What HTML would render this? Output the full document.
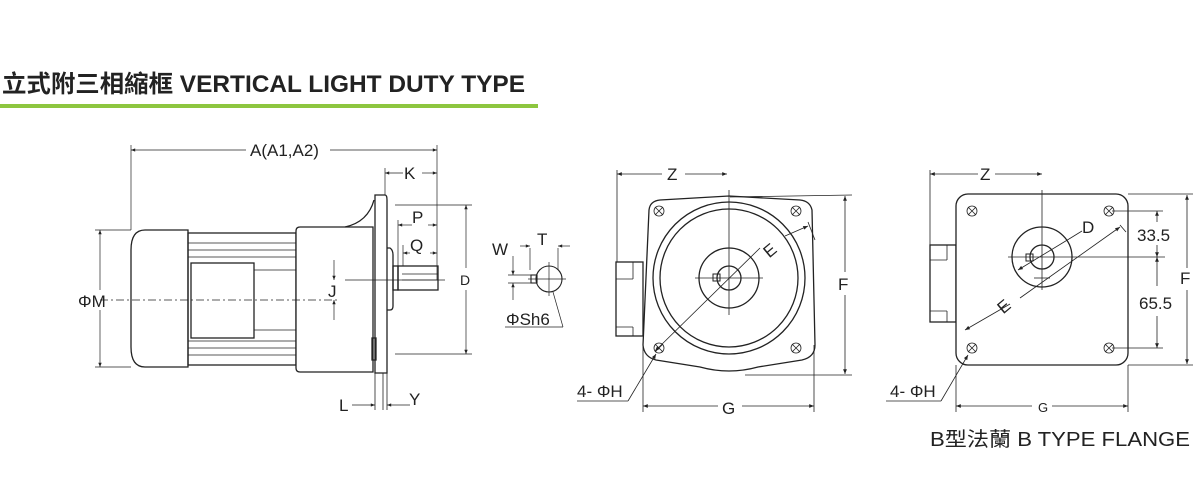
<!DOCTYPE html>
<html><head><meta charset="utf-8"><style>
html,body{margin:0;padding:0;background:#fff;width:1200px;height:500px;overflow:hidden}
svg{display:block}
text{font-family:"Liberation Sans","Noto Sans CJK TC",sans-serif;fill:#222}
</style></head><body>
<svg width="1200" height="500" viewBox="0 0 1200 500" xmlns="http://www.w3.org/2000/svg">
<defs>
<marker id="a" viewBox="0 0 10 10" refX="10" refY="5" markerWidth="8" markerHeight="6" orient="auto-start-reverse"><path d="M0,1 L10,5 L0,9 z" fill="#222"/></marker>
</defs>
<text x="2" y="92" font-size="24" font-weight="bold" textLength="523" lengthAdjust="spacingAndGlyphs">立式附三相縮框 VERTICAL LIGHT DUTY TYPE</text>
<rect x="0" y="104" width="538" height="4" fill="#8dc63f"/>

<g stroke="#222" fill="none" stroke-width="1.3">
<path d="M188,230 L145,230 Q131,230 131,250 L131,347 Q131,367 145,367 L188,367 Z" fill="#fff"/>
<rect x="188" y="233" width="108" height="132"/>
<g stroke-width="0.8">
<line x1="188" y1="243" x2="296" y2="243"/><line x1="188" y1="250" x2="296" y2="250"/><line x1="188" y1="257" x2="296" y2="257"/>
<line x1="188" y1="341" x2="296" y2="341"/><line x1="188" y1="348" x2="296" y2="348"/><line x1="188" y1="355" x2="296" y2="355"/>
<line x1="254" y1="270" x2="296" y2="270"/><line x1="254" y1="330" x2="296" y2="330"/>
</g>
<rect x="191" y="263" width="63" height="75" fill="#fff"/>
<path d="M300,227 L373,227 L373,372 L300,372 Q296,372 296,368 L296,231 Q296,227 300,227" fill="#fff"/>
<path d="M345,227 Q368,222 374,200"/>
<path d="M375,195 L385,195 Q387,195 387,200 L387,373 L375,373 Z" fill="#fff"/>
<line x1="375" y1="373" x2="375" y2="410" stroke-width="0.8"/><line x1="383" y1="373" x2="383" y2="410" stroke-width="0.8"/><line x1="387" y1="373" x2="387" y2="410" stroke-width="0.8"/>
<rect x="372" y="338" width="4" height="22"/>
<path d="M387,248 L390,248 Q393,250 393,255 L393,306 Q393,310 390,310 L387,310"/>
<rect x="393" y="266" width="5" height="24"/>
<rect x="398" y="266" width="40" height="24"/>
<line x1="402" y1="274" x2="438" y2="274" stroke-width="0.8"/><line x1="402" y1="280" x2="438" y2="280" stroke-width="0.8"/>
</g>
<g stroke="#222" stroke-width="0.7" fill="none">
<line x1="100" y1="300" x2="340" y2="300" stroke-dasharray="8,3,2,3"/>
<line x1="131" y1="145" x2="131" y2="230"/><line x1="437" y1="145" x2="437" y2="280"/>
<line x1="131" y1="150" x2="246" y2="150" marker-start="url(#a)"/><line x1="330" y1="150" x2="437" y2="150" marker-end="url(#a)"/>
<line x1="385" y1="168" x2="385" y2="195"/>
<line x1="385" y1="173" x2="403" y2="173" marker-start="url(#a)"/><line x1="422" y1="173" x2="437" y2="173" marker-end="url(#a)"/>
<line x1="398" y1="220" x2="398" y2="266"/><line x1="403" y1="245" x2="403" y2="266"/>
<line x1="398" y1="225" x2="412" y2="225" marker-start="url(#a)"/><line x1="428" y1="225" x2="437" y2="225" marker-end="url(#a)"/>
<line x1="403" y1="253" x2="410" y2="253" marker-start="url(#a)"/><line x1="430" y1="253" x2="437" y2="253" marker-end="url(#a)"/>
<line x1="395" y1="205" x2="472" y2="205"/><line x1="395" y1="354" x2="472" y2="354"/>
<line x1="466" y1="205" x2="466" y2="268" marker-start="url(#a)"/><line x1="466" y1="290" x2="466" y2="354" marker-end="url(#a)"/>
<line x1="345" y1="280" x2="445" y2="280"/>
<line x1="334" y1="260" x2="334" y2="280" marker-end="url(#a)"/><line x1="334" y1="320" x2="334" y2="300" marker-end="url(#a)"/>
<line x1="95" y1="230" x2="131" y2="230"/><line x1="95" y1="367" x2="131" y2="367"/>
<line x1="100" y1="230" x2="100" y2="290" marker-start="url(#a)"/><line x1="100" y1="310" x2="100" y2="367" marker-end="url(#a)"/>
<line x1="352" y1="405" x2="375" y2="405" marker-end="url(#a)"/>
<line x1="410" y1="405" x2="387" y2="405" marker-end="url(#a)"/>
</g>
<g font-size="17">
<text x="250" y="156">A(A1,A2)</text>
<text x="404" y="179">K</text><text x="412" y="223">P</text><text x="410" y="251">Q</text>
<text x="460" y="285" font-size="14">D</text><text x="328" y="297">J</text>
<text x="78" y="307">ΦM</text><text x="339" y="411">L</text><text x="409" y="405">Y</text>
</g>
<g stroke="#222" fill="none" stroke-width="1.1">
<circle cx="549" cy="279" r="13"/><rect x="531" y="275" width="6" height="8"/>
</g>
<g stroke="#222" stroke-width="0.7" fill="none">
<line x1="528" y1="279" x2="566" y2="279"/><line x1="549" y1="262" x2="549" y2="296"/>
<line x1="530" y1="248" x2="530" y2="270"/><line x1="558" y1="248" x2="558" y2="270"/>
<line x1="520" y1="246" x2="530" y2="246" marker-end="url(#a)"/><line x1="570" y1="246" x2="558" y2="246" marker-end="url(#a)"/>
<line x1="513" y1="256" x2="513" y2="275" marker-end="url(#a)"/><line x1="513" y1="300" x2="513" y2="283" marker-end="url(#a)"/>
<line x1="508" y1="275" x2="533" y2="275"/><line x1="508" y1="283" x2="533" y2="283"/>
<line x1="505" y1="327" x2="563" y2="327"/><line x1="563" y1="327" x2="553" y2="292"/>
</g>
<g font-size="17"><text x="492" y="255">W</text><text x="537" y="245">T</text><text x="506" y="325">ΦSh6</text></g>

<g stroke="#222" fill="none" stroke-width="1.3">
<rect x="616" y="262" width="27" height="74"/><line x1="616" y1="279" x2="633" y2="279" stroke-width="0.8"/><line x1="633" y1="262" x2="633" y2="279" stroke-width="0.8"/><line x1="616" y1="327" x2="633" y2="327" stroke-width="0.8"/><line x1="633" y1="327" x2="633" y2="336" stroke-width="0.8"/>
<path d="M660,200 Q650,201 649,210 L643,345 Q644,357 656,360 L700,367 Q729,375 758,367 L802,360 Q815,357 815,345 L812,210 Q810,201 800,200 L729,196 Z" fill="#fff"/>
<circle cx="729" cy="278" r="76"/><circle cx="729" cy="278" r="69"/>
<circle cx="729" cy="278" r="30"/><circle cx="729" cy="278" r="12"/>
<rect x="713" y="274" width="7" height="7" stroke-width="1"/>
</g>
<g stroke="#222" stroke-width="0.8" fill="none">
<circle cx="659" cy="211" r="5"/><circle cx="796" cy="211" r="5"/><circle cx="659" cy="348" r="5"/><circle cx="796" cy="348" r="5"/>
<path d="M655,207l8,8M663,207l-8,8M792,207l8,8M800,207l-8,8M655,344l8,8M663,344l-8,8M792,344l8,8M800,344l-8,8"/>
<line x1="729" y1="190" x2="729" y2="315"/><line x1="695" y1="278" x2="763" y2="278"/>
<line x1="617" y1="170" x2="617" y2="262"/>
<line x1="617" y1="174" x2="662" y2="174" marker-start="url(#a)"/><line x1="685" y1="174" x2="727" y2="174" marker-end="url(#a)"/>
<line x1="655" y1="351" x2="760" y2="248" marker-start="url(#a)"/><line x1="785" y1="236" x2="808" y2="226" marker-end="url(#a)"/>
<line x1="808" y1="222" x2="815" y2="240"/>
<line x1="643" y1="345" x2="643" y2="412"/><line x1="814" y1="345" x2="814" y2="412"/>
<line x1="643" y1="406" x2="718" y2="406" marker-start="url(#a)"/><line x1="742" y1="406" x2="814" y2="406" marker-end="url(#a)"/>
<line x1="730" y1="197" x2="852" y2="195"/><line x1="745" y1="375" x2="852" y2="375"/>
<line x1="845" y1="196" x2="845" y2="272" marker-start="url(#a)"/><line x1="845" y1="295" x2="845" y2="374" marker-end="url(#a)"/>
<line x1="577" y1="401" x2="628" y2="401"/><line x1="628" y1="401" x2="656" y2="354" marker-end="url(#a)"/>
</g>
<g font-size="17"><text x="667" y="180">Z</text><text x="838" y="290">F</text><text x="722" y="414">G</text><text x="577" y="397">4- ΦH</text>
<text x="764" y="256" transform="rotate(-40 770 250)">E</text></g>

<g stroke="#222" fill="none" stroke-width="1.3">
<rect x="930" y="245" width="26" height="77"/><line x1="930" y1="260" x2="947" y2="260" stroke-width="0.8"/><line x1="947" y1="245" x2="947" y2="260" stroke-width="0.8"/><line x1="930" y1="311" x2="947" y2="311" stroke-width="0.8"/><line x1="947" y1="311" x2="947" y2="322" stroke-width="0.8"/>
<rect x="956" y="194" width="172" height="171" rx="12" fill="#fff"/>
<circle cx="1042" cy="257" r="30"/><circle cx="1042" cy="257" r="12"/>
<rect x="1026" y="254" width="7" height="7" stroke-width="1"/>
</g>
<g stroke="#222" stroke-width="0.8" fill="none">
<circle cx="972" cy="211" r="5"/><circle cx="1109" cy="211" r="5"/><circle cx="972" cy="348" r="5"/><circle cx="1109" cy="348" r="5"/>
<path d="M968,207l8,8M976,207l-8,8M1105,207l8,8M1113,207l-8,8M968,344l8,8M976,344l-8,8M1105,344l8,8M1113,344l-8,8"/>
<line x1="1042" y1="190" x2="1042" y2="290"/><line x1="1008" y1="257" x2="1165" y2="257"/><line x1="1034" y1="278" x2="1050" y2="278"/>
<line x1="930" y1="170" x2="930" y2="245"/>
<line x1="930" y1="174" x2="978" y2="174" marker-start="url(#a)"/><line x1="995" y1="174" x2="1042" y2="174" marker-end="url(#a)"/>
<line x1="1018" y1="270" x2="1069" y2="239" marker-start="url(#a)"/><line x1="1069" y1="239" x2="1082" y2="231"/>
<line x1="965" y1="330" x2="1010" y2="304" marker-start="url(#a)"/><line x1="1020" y1="298" x2="1120" y2="227" marker-end="url(#a)"/>
<line x1="1120" y1="225" x2="1126" y2="232"/>
<line x1="1112" y1="211" x2="1163" y2="211"/><line x1="1112" y1="348" x2="1163" y2="348"/>
<line x1="1157" y1="211" x2="1157" y2="222" marker-start="url(#a)"/><line x1="1157" y1="245" x2="1157" y2="257" marker-end="url(#a)"/>
<line x1="1157" y1="257" x2="1157" y2="286" marker-start="url(#a)"/><line x1="1157" y1="316" x2="1157" y2="348" marker-end="url(#a)"/>
<line x1="1128" y1="194" x2="1193" y2="194"/><line x1="1128" y1="365" x2="1193" y2="365"/>
<line x1="1187" y1="195" x2="1187" y2="268" marker-start="url(#a)"/><line x1="1187" y1="290" x2="1187" y2="364" marker-end="url(#a)"/>
<line x1="956" y1="365" x2="956" y2="412"/><line x1="1128" y1="365" x2="1128" y2="412"/>
<line x1="956" y1="406" x2="1032" y2="406" marker-start="url(#a)"/><line x1="1052" y1="406" x2="1128" y2="406" marker-end="url(#a)"/>
<line x1="886" y1="401" x2="941" y2="401"/><line x1="941" y1="401" x2="968" y2="355" marker-end="url(#a)"/>
</g>
<g font-size="17"><text x="980" y="180">Z</text><text x="1082" y="233">D</text><text x="1137" y="241">33.5</text><text x="1139" y="309">65.5</text>
<text x="1180" y="284">F</text><text x="1038" y="412" font-size="13">G</text><text x="890" y="397">4- ΦH</text>
<text x="998" y="312" transform="rotate(-40 1004 306)">E</text></g>
<text x="930" y="446" font-size="20" textLength="260" lengthAdjust="spacingAndGlyphs">B型法蘭  B TYPE FLANGE</text>
</svg>
</body></html>
